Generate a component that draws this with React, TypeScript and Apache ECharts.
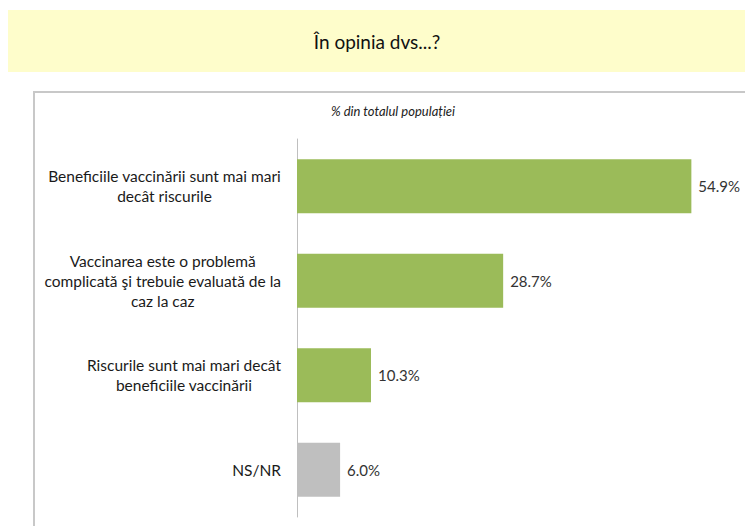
import React, { useEffect, useRef } from "react";
import * as echarts from "echarts";

const categories = [
  "Beneficiile vaccinării sunt mai mari\ndecât riscurile",
  "Vaccinarea este o problemă\ncomplicată şi trebuie evaluată de la\ncaz la caz",
  "Riscurile sunt mai mari decât\nbeneficiile vaccinării",
  "NS/NR",
];
const values = [54.9, 28.7, 10.3, 6.0];
const barColors = ["#9BBB59", "#9BBB59", "#9BBB59", "#BFBFBF"];
const titleText = "În opinia dvs...?";
const subtitleText = "% din totalul populației";

const FONT = "Lato, 'Open Sans', sans-serif";

export default function App() {
  const ref = useRef<HTMLDivElement>(null);
  useEffect(() => {
    document.body.style.margin = "0";
    const chart = echarts.init(ref.current!, undefined, { renderer: "svg" });
    chart.setOption({
      animation: false,
      backgroundColor: "#ffffff",
      graphic: [
        {
          type: "rect",
          shape: { x: 8, y: 10, width: 745, height: 62 },
          style: { fill: "#FEFDCB" },
          z: 0,
        },
        {
          type: "rect",
          shape: { x: 34, y: 92, width: 760, height: 480 },
          style: { fill: "#FFFFFF", stroke: "#C8C8C8", lineWidth: 2 },
          z: 0,
        },
        {
          type: "text",
          x: 377,
          y: 41,
          style: {
            text: titleText,
            font: `19px ${FONT}`,
            fill: "#111111",
            align: "center",
            verticalAlign: "middle",
          },
          z: 10,
        },
        {
          type: "text",
          x: 393,
          y: 111,
          style: {
            text: subtitleText,
            font: `italic 13px ${FONT}`,
            fill: "#222222",
            align: "center",
            verticalAlign: "middle",
          },
          z: 10,
        },
      ],
      grid: { left: 297, top: 139, width: 431, height: 378, containLabel: false },
      xAxis: {
        type: "value",
        min: 0,
        max: 60,
        show: false,
      },
      yAxis: {
        type: "category",
        data: categories,
        inverse: true,
        axisLine: { show: true, lineStyle: { color: "#BFBFBF", width: 1 } },
        axisTick: { show: false },
        splitLine: { show: false },
        axisLabel: {
          margin: 16,
          align: "right",
          lineHeight: 20,
          formatter: (v: string) =>
            v
              .split("\n")
              .map((l) => `{c|${l}}`)
              .join("\n"),
          rich: {
            c: {
              align: "center",
              fontFamily: FONT,
              fontSize: 15.5,
              lineHeight: 20,
              color: "#1a1a1a",
            },
          },
        },
      },
      series: [
        {
          type: "bar",
          barWidth: 54,
          data: values.map((v, i) => ({ value: v, itemStyle: { color: barColors[i] } })),
          label: {
            show: true,
            position: "right",
            distance: 7,
            formatter: (p: any) => `${p.value.toFixed(1)}%`,
            fontFamily: FONT,
            fontSize: 15,
            color: "#333333",
          },
          z: 5,
        },
      ],
    });
    return () => chart.dispose();
  }, []);
  return (
    <div
      ref={ref}
      style={{ position: "fixed", left: 0, top: 0, width: 745, height: 526 }}
    />
  );
}
